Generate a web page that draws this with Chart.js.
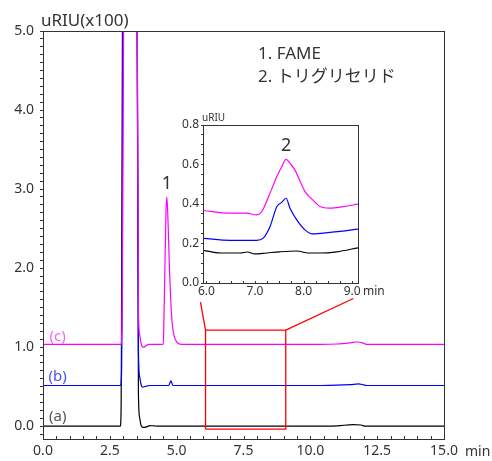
<!DOCTYPE html>
<html>
<head>
<meta charset="utf-8">
<script src="https://cdn.jsdelivr.net/npm/chart.js@4.4.0/dist/chart.umd.min.js"></script>
<style>
  html, body { margin: 0; padding: 0; background: #fff; }
  #wrap { position: relative; width: 492px; height: 461px; }
  #main { position: absolute; left: 0; top: 0; }
  #inset { position: absolute; left: 170px; top: 105px; }
</style>
</head>
<body>
<div id="wrap">
  <canvas id="main" width="492" height="461"></canvas>
  <canvas id="inset" width="230" height="200"></canvas>
</div>
<script>
// ---------------- MAIN TRACES (uRIU x100 vs min) ----------------
const timeA  = [0, 2.89, 2.92, 3.00, 3.50, 3.57, 3.62, 3.66, 3.72, 3.80, 3.90, 4.00, 4.15, 4.30, 10.0, 11.0, 11.6, 11.9, 12.05, 15.0];
const traceA = [0, 0, 0.2, 7, 7, 0.4, 0.1, 0.02, -0.012, -0.015, -0.005, 0.008, 0.004, 0, 0, 0.005, 0.02, 0.015, 0, 0];

const timeB  = [0, 2.90, 2.94, 3.02, 3.50, 3.57, 3.62, 3.66, 3.72, 3.80, 3.90, 4.00, 4.70, 4.75, 4.78, 4.81, 4.86, 10.4, 11.5, 11.8, 12.0, 12.1, 15.0];
const traceB = [0.515, 0.515, 0.7, 7, 7, 0.95, 0.62, 0.54, 0.495, 0.5, 0.51, 0.515, 0.515, 0.55, 0.575, 0.555, 0.515, 0.515, 0.525, 0.535, 0.522, 0.515, 0.515];

const timeC  = [0, 2.92, 2.95, 3.06, 3.50, 3.57, 3.62, 3.66, 3.72, 3.78, 3.86, 3.95,
                4.50, 4.52, 4.56, 4.60, 4.63, 4.66, 4.69, 4.73, 4.76, 4.80, 4.84, 4.90, 4.96, 5.05, 5.20,
                10.4, 11.0, 11.5, 11.75, 11.95, 12.1, 15.0];
const traceC = [1.035, 1.035, 1.2, 7, 7, 1.45, 1.15, 1.06, 1.005, 1.0, 1.02, 1.035,
                1.035, 1.3, 2.0, 2.7, 2.9, 2.75, 2.45, 2.0, 1.75, 1.45, 1.28, 1.15, 1.09, 1.05, 1.035,
                1.035, 1.04, 1.055, 1.065, 1.055, 1.035, 1.035];

// zoom box + leader lines (min, uRIU x100), null = gap
const redPathX = [6.08, 9.08, 9.08, 6.08, 6.08, null, 5.89, 6.08, null, 11.61, 9.08];
const redPathY = [-0.038, -0.038, 1.215, 1.215, -0.038, null, 1.57, 1.215, null, 1.616, 1.215];

// ---------------- INSET TRACES (uRIU vs min) ----------------
const insetTimeA  = [5.94, 6.29, 6.70, 6.84, 7.00, 7.24, 7.51, 7.86, 8.10, 8.34, 8.68, 9.12];
const insetTraceA = [0.165, 0.152, 0.152, 0.157, 0.147, 0.152, 0.158, 0.162, 0.152, 0.152, 0.158, 0.178];

const insetTimeB  = [5.94, 6.49, 7.03, 7.17, 7.31, 7.45, 7.55, 7.64, 7.72, 7.86, 8.03, 8.17, 8.41, 8.75, 9.12];
const insetTraceB = [0.226, 0.216, 0.216, 0.227, 0.286, 0.387, 0.408, 0.429, 0.379, 0.32, 0.269, 0.249, 0.253, 0.261, 0.273];

const insetTimeC  = [5.94, 6.49, 6.83, 7.03, 7.14, 7.31, 7.45, 7.55, 7.64, 7.72, 7.82, 7.93, 8.03, 8.20, 8.34, 8.54, 8.82, 9.12];
const insetTraceC = [0.367, 0.354, 0.354, 0.345, 0.362, 0.455, 0.539, 0.589, 0.626, 0.606, 0.573, 0.514, 0.463, 0.418, 0.387, 0.379, 0.387, 0.399];

// ---------------- TICKS / LABELS ----------------
const mainXLabels = [0, 2.5, 5, 7.5, 10, 12.5, 15];
const mainYLabels = [0, 1, 2, 3, 4, 5];
const insetXLabels = [6, 7, 8, 9];
const insetYLabels = [0, 0.2, 0.4, 0.6, 0.8];
const legendLines = ["1. FAME", "2. トリグリセリド"];
const traceNames = ["(a)", "(b)", "(c)"];

const FONT = "'Noto Sans', 'Noto Sans CJK JP', sans-serif";
const AXIS = "#333";
const colors = ["#000000", "#0000ff", "#ff00ff"];

const pts = (xs, ys) => xs.map((x, i) => ({ x: x, y: ys[i] }));
const hasLabel = (list, v) => list.some(l => Math.abs(l - v) < 1e-6);

// higher order is drawn first, so magenta (c) ends up on top
const traceDs = (xs, ys, color, order) => ({
  data: pts(xs, ys),
  borderColor: color,
  borderWidth: 1.2,
  pointRadius: 0,
  order: order,
  cubicInterpolationMode: "monotone"
});

// frame + inward x ticks
const frameTicks = (len) => ({
  id: "frameTicks",
  afterDatasetsDraw(chart) {
    const { ctx, chartArea: a, scales } = chart;
    ctx.save();
    ctx.strokeStyle = AXIS;
    ctx.lineWidth = 1;
    ctx.strokeRect(Math.round(a.left) + 0.5, Math.round(a.top) + 0.5,
      Math.round(a.right - a.left), Math.round(a.bottom - a.top));
    ctx.beginPath();
    scales.x.ticks.forEach(t => {
      const px = Math.round(scales.x.getPixelForValue(t.value)) + 0.5;
      ctx.moveTo(px, a.bottom);
      ctx.lineTo(px, a.bottom - len);
    });
    ctx.stroke();
    ctx.restore();
  }
});

const mainText = {
  id: "mainText",
  afterDraw(chart) {
    const { ctx, scales: { x, y }, chartArea: a } = chart;
    ctx.save();
    ctx.textBaseline = "alphabetic";
    ctx.fillStyle = "#333";
    ctx.font = "17px " + FONT;
    ctx.textAlign = "left";
    ctx.fillText("uRIU(x100)", 41, 26);
    ctx.fillText(legendLines[0], 258, 59);
    ctx.fillText(legendLines[1], 258, 82);
    ctx.font = "14px " + FONT;
    ctx.fillText("min", a.right + 21, 456);
    // peak label
    ctx.textAlign = "center";
    ctx.font = "18px " + FONT;
    ctx.fillText("1", x.getPixelForValue(4.63), y.getPixelForValue(3.0));
    // trace labels
    const lblColors = ["#555", "#4d4dff", "#ff5cff"];
    const lblLevels = [0.06, 0.57, 1.08];
    ctx.font = "15px " + FONT;
    traceNames.forEach((n, i) => {
      ctx.fillStyle = lblColors[i];
      ctx.fillText(n, x.getPixelForValue(0.55), y.getPixelForValue(lblLevels[i]));
    });
    ctx.restore();
  }
};

const insetText = {
  id: "insetText",
  afterDraw(chart) {
    const { ctx, scales: { x, y }, chartArea: a } = chart;
    ctx.save();
    ctx.fillStyle = "#333";
    ctx.textBaseline = "alphabetic";
    ctx.textAlign = "left";
    ctx.font = "10px " + FONT;
    ctx.fillText("uRIU", a.left - 1, a.top - 4);
    ctx.font = "12px " + FONT;
    ctx.fillText("min", a.right + 5, a.bottom + 12);
    ctx.textAlign = "center";
    ctx.font = "18px " + FONT;
    ctx.fillText("2", x.getPixelForValue(7.64), y.getPixelForValue(0.67));
    ctx.restore();
  }
};

// ---------------- MAIN CHART ----------------
new Chart(document.getElementById("main"), {
  type: "line",
  data: {
    datasets: [
      traceDs(timeA, traceA, colors[0], 3),
      traceDs(timeB, traceB, colors[1], 2),
      traceDs(timeC, traceC, colors[2], 1),
      {
        data: pts(redPathX, redPathY),
        borderColor: "#ff0000",
        borderWidth: 1.3,
        pointRadius: 0,
        spanGaps: false,
        tension: 0,
        order: 0
      }
    ]
  },
  options: {
    responsive: false,
    animation: false,
    events: [],
    layout: { padding: { left: 0, top: 31, right: 48, bottom: 0 } },
    plugins: { legend: { display: false }, tooltip: { enabled: false } },
    scales: {
      x: {
        type: "linear",
        min: 0,
        max: 15,
        afterFit: s => { s.height = 22; },
        border: { display: true, color: AXIS, width: 1 },
        grid: { display: false, drawTicks: false },
        ticks: {
          stepSize: 0.5,
          autoSkip: false,
          maxRotation: 0,
          includeBounds: false,
          padding: 4,
          color: "#333",
          font: { family: FONT, size: 14 },
          callback: v => hasLabel(mainXLabels, v) ? v.toFixed(1) : ""
        }
      },
      y: {
        type: "linear",
        min: -0.162,
        max: 5.0,
        afterFit: s => { s.width = 43; },
        border: { display: true, color: AXIS, width: 1 },
        grid: { drawOnChartArea: false, drawTicks: true, tickLength: 3, color: AXIS },
        ticks: {
          stepSize: 0.1,
          autoSkip: false,
          includeBounds: false,
          maxTicksLimit: 1000,
          padding: 6,
          color: "#333",
          font: { family: FONT, size: 14 },
          callback: v => hasLabel(mainYLabels, v) ? v.toFixed(1) : ""
        }
      }
    }
  },
  plugins: [frameTicks(3), mainText]
});

// ---------------- INSET CHART ----------------
new Chart(document.getElementById("inset"), {
  type: "line",
  data: {
    datasets: [
      traceDs(insetTimeA, insetTraceA, colors[0], 3),
      traceDs(insetTimeB, insetTraceB, colors[1], 2),
      traceDs(insetTimeC, insetTraceC, colors[2], 1)
    ]
  },
  options: {
    responsive: false,
    animation: false,
    events: [],
    layout: { padding: { left: 0, top: 20, right: 42, bottom: 0 } },
    plugins: { legend: { display: false }, tooltip: { enabled: false } },
    scales: {
      x: {
        type: "linear",
        min: 5.93,
        max: 9.12,
        afterFit: s => { s.height = 22; },
        border: { display: true, color: AXIS, width: 1 },
        grid: { display: false, drawTicks: false },
        ticks: {
          stepSize: 0.25,
          autoSkip: false,
          maxRotation: 0,
          includeBounds: false,
          padding: 1,
          color: "#333",
          font: { family: FONT, size: 12 },
          callback: v => hasLabel(insetXLabels, v) ? v.toFixed(1) : ""
        }
      },
      y: {
        type: "linear",
        min: 0,
        max: 0.8,
        afterFit: s => { s.width = 33; },
        border: { display: true, color: AXIS, width: 1 },
        grid: { drawOnChartArea: false, drawTicks: true, tickLength: 2, color: AXIS },
        ticks: {
          stepSize: 0.05,
          autoSkip: false,
          includeBounds: false,
          maxTicksLimit: 1000,
          padding: 2,
          color: "#333",
          font: { family: FONT, size: 12 },
          callback: v => hasLabel(insetYLabels, v) ? v.toFixed(1) : ""
        }
      }
    }
  },
  plugins: [frameTicks(2), insetText]
});
</script>
</body>
</html>
